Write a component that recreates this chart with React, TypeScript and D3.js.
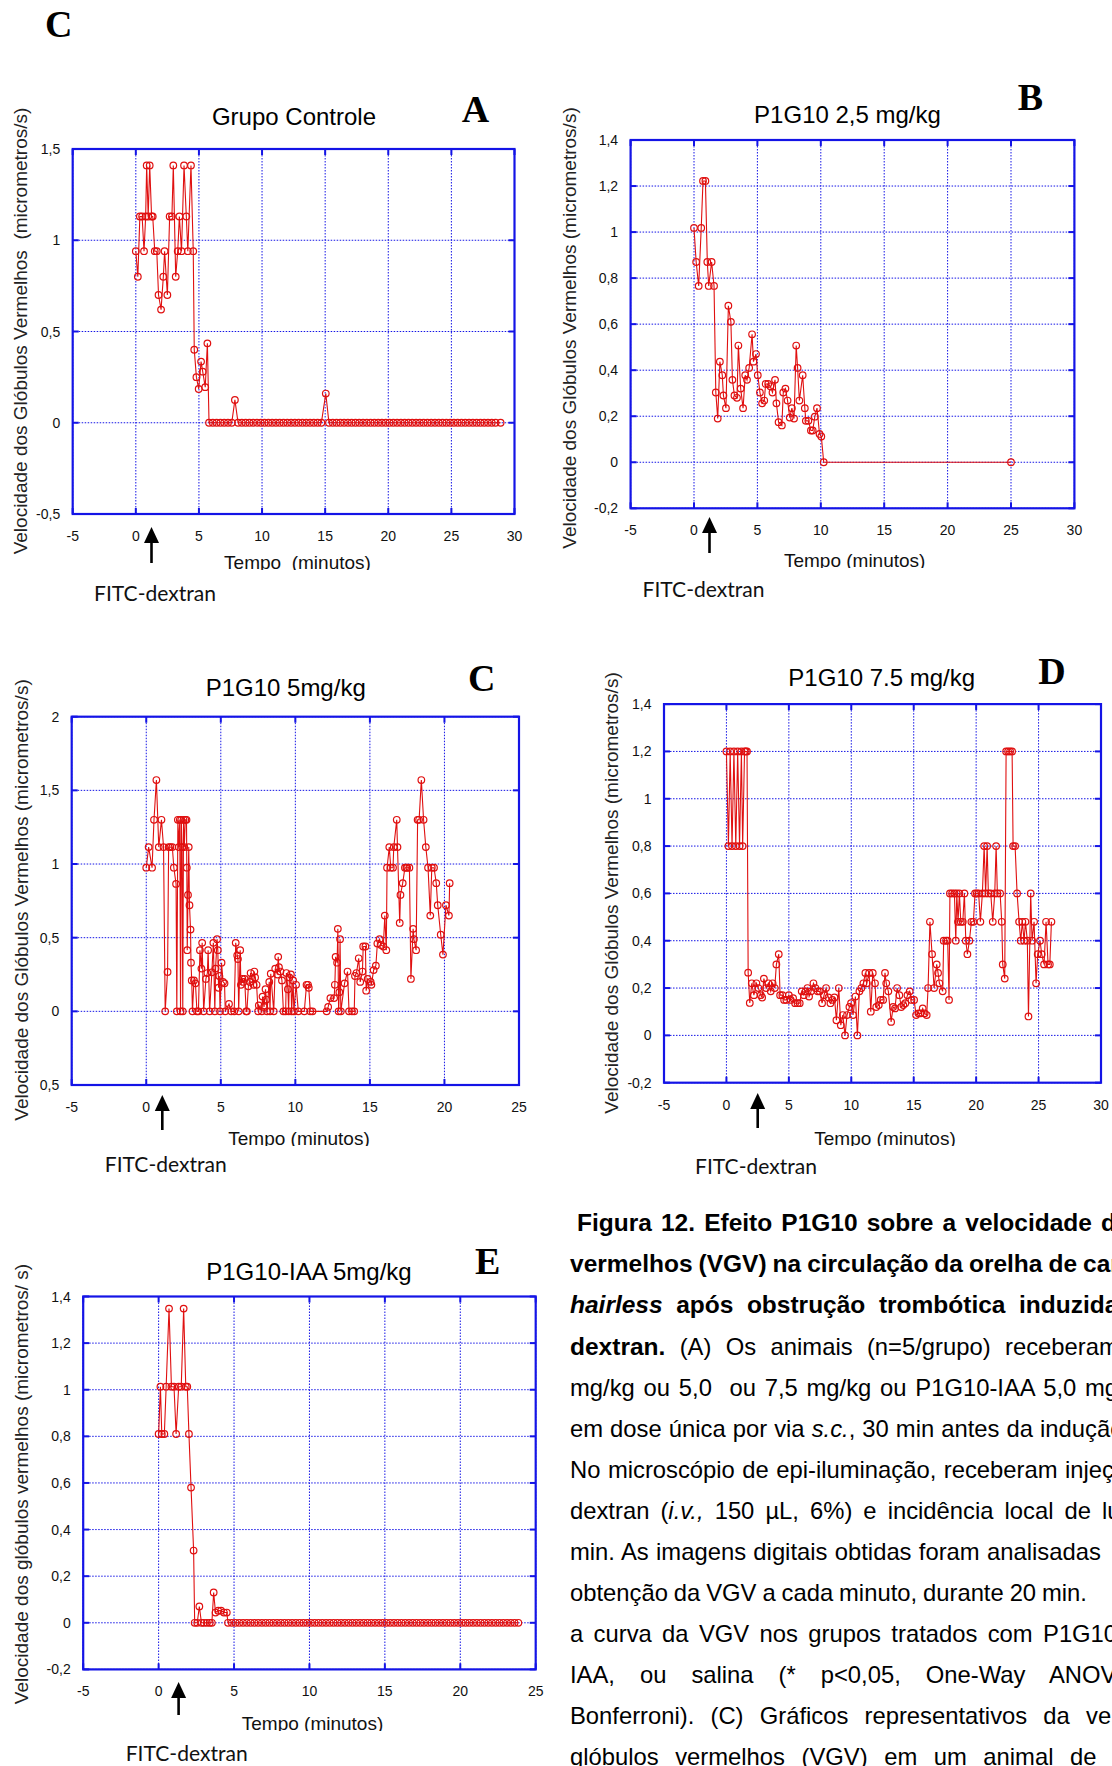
import React, { useEffect, useRef } from "react";
import * as d3 from "d3";

type Pt = [number, number];

// ---- tick values / labels ----
const xTicks30 = [-5, 0, 5, 10, 15, 20, 25, 30];
const xTicks25 = [-5, 0, 5, 10, 15, 20, 25];
const yTicksA = [-0.5, 0, 0.5, 1, 1.5];
const yLabelsA = ["-0,5", "0", "0,5", "1", "1,5"];
const yTicksC = [-0.5, 0, 0.5, 1, 1.5, 2];
const yLabelsC = ["0,5", "0", "0,5", "1", "1,5", "2"];
const yTicks14 = [-0.2, 0, 0.2, 0.4, 0.6, 0.8, 1, 1.2, 1.4];
const yLabels14 = ["-0,2", "0", "0,2", "0,4", "0,6", "0,8", "1", "1,2", "1,4"];

// ---- series: [tempo (min), VGV] ----
const grupoControle: Pt[] = [
  [0, 0.94], [0.16, 0.8], [0.32, 1.13], [0.5, 1.13], [0.65, 0.94], [0.78, 1.13], [0.86, 1.41], [0.98, 1.13],
  [1.1, 1.41], [1.25, 1.13], [1.34, 1.13], [1.5, 0.94], [1.66, 0.94], [1.8, 0.7], [2.0, 0.62], [2.18, 0.8],
  [2.28, 0.94], [2.5, 0.7], [2.68, 1.13], [2.86, 1.13], [2.97, 1.41], [3.16, 0.8], [3.32, 0.94], [3.45, 1.13],
  [3.62, 0.94], [3.82, 1.41], [4.0, 1.13], [4.12, 0.94], [4.37, 1.41], [4.55, 0.94], [4.63, 0.4], [4.8, 0.25],
  [4.98, 0.185], [5.17, 0.335], [5.3, 0.28], [5.5, 0.195], [5.67, 0.435], [5.8, 0], [6.1, 0], [6.4, 0],
  [6.7, 0], [7.0, 0], [7.3, 0], [7.6, 0], [7.85, 0.125], [8.1, 0], [8.4, 0], [8.7, 0], [9.0, 0], [9.3, 0],
  [9.6, 0], [9.9, 0], [10.2, 0], [10.5, 0], [10.8, 0], [11.1, 0], [11.4, 0], [11.7, 0], [12.0, 0], [12.3, 0],
  [12.6, 0], [12.9, 0], [13.2, 0], [13.5, 0], [13.8, 0], [14.1, 0], [14.4, 0], [14.7, 0], [15.05, 0.16],
  [15.3, 0], [15.6, 0], [15.9, 0], [16.2, 0], [16.5, 0], [16.8, 0], [17.1, 0], [17.4, 0], [17.7, 0], [18.0, 0],
  [18.3, 0], [18.6, 0], [18.9, 0], [19.2, 0], [19.5, 0], [19.8, 0], [20.1, 0], [20.4, 0], [20.7, 0], [21.0, 0],
  [21.3, 0], [21.6, 0], [21.9, 0], [22.2, 0], [22.5, 0], [22.8, 0], [23.1, 0], [23.4, 0], [23.7, 0], [24.0, 0],
  [24.3, 0], [24.6, 0], [24.9, 0], [25.2, 0], [25.5, 0], [25.8, 0], [26.1, 0], [26.4, 0], [26.7, 0], [27.0, 0],
  [27.3, 0], [27.6, 0], [27.9, 0], [28.2, 0], [28.5, 0], [28.9, 0],
];

const p1g10_25: Pt[] = [
  [0, 1.018], [0.17, 0.87], [0.37, 0.766], [0.57, 1.018], [0.71, 1.222], [0.9, 1.222], [1.05, 0.87], [1.16, 0.766],
  [1.39, 0.87], [1.58, 0.766], [1.72, 0.303], [1.87, 0.19], [2.04, 0.437], [2.23, 0.378], [2.32, 0.29], [2.52, 0.235],
  [2.71, 0.68], [2.91, 0.61], [3.03, 0.358], [3.19, 0.29], [3.39, 0.28], [3.5, 0.507], [3.68, 0.32], [3.87, 0.235],
  [4.04, 0.378], [4.18, 0.358], [4.35, 0.41], [4.58, 0.556], [4.69, 0.437], [4.89, 0.47], [5.03, 0.378], [5.2, 0.303],
  [5.37, 0.256], [5.54, 0.268], [5.65, 0.34], [5.85, 0.34], [6.02, 0.33], [6.19, 0.303], [6.39, 0.358], [6.5, 0.256],
  [6.67, 0.174], [6.93, 0.16], [7.04, 0.303], [7.21, 0.32], [7.38, 0.268], [7.55, 0.194], [7.72, 0.235], [7.89, 0.19],
  [8.06, 0.507], [8.17, 0.41], [8.31, 0.268], [8.57, 0.378], [8.74, 0.235], [8.82, 0.18], [9.02, 0.18], [9.22, 0.138],
  [9.36, 0.138], [9.53, 0.198], [9.7, 0.235], [9.9, 0.123], [10.04, 0.112], [10.23, 0], [25.0, 0],
];

const p1g10_5: Pt[] = [
  [0, 0.975], [0.16, 1.115], [0.39, 0.975], [0.52, 1.3], [0.68, 1.57], [0.84, 1.115], [1.02, 1.3], [1.16, 1.115],
  [1.27, 0], [1.43, 0.267], [1.5, 1.115], [1.62, 1.115], [1.75, 1.115], [1.85, 0.975], [2.0, 0.865], [2.05, 0],
  [2.12, 1.3], [2.18, 1.115], [2.25, 1.3], [2.3, 0], [2.35, 1.3], [2.4, 1.115], [2.45, 0], [2.5, 1.3], [2.55, 1.115],
  [2.62, 1.3], [2.7, 1.3], [2.72, 0.975], [2.75, 0.415], [2.8, 0.79], [2.85, 1.115], [2.9, 0.72], [2.97, 0.555],
  [3.0, 0.33], [3.05, 0.21], [3.1, 0], [3.2, 0.21], [3.3, 0.19], [3.4, 0], [3.5, 0], [3.6, 0.415], [3.7, 0.29],
  [3.75, 0.465], [3.85, 0], [4.0, 0.22], [4.1, 0.26], [4.15, 0.415], [4.25, 0], [4.4, 0.265], [4.5, 0.465], [4.6, 0],
  [4.65, 0.29], [4.75, 0.49], [4.8, 0.415], [4.85, 0.16], [4.9, 0.24], [4.95, 0], [5.05, 0.33], [5.15, 0.2],
  [5.25, 0.19], [5.3, 0], [5.55, 0.05], [5.7, 0], [5.9, 0], [6.0, 0.465], [6.1, 0.38], [6.15, 0.355], [6.2, 0],
  [6.3, 0.415], [6.35, 0.18], [6.45, 0.22], [6.5, 0.2], [6.6, 0.22], [6.7, 0], [6.75, 0], [6.85, 0.17], [6.95, 0.2],
  [7.0, 0.26], [7.1, 0.22], [7.2, 0.18], [7.25, 0.27], [7.3, 0.23], [7.4, 0.18], [7.5, 0], [7.55, 0.04], [7.75, 0],
  [7.8, 0.1], [7.9, 0.03], [8.0, 0.15], [8.05, 0.08], [8.1, 0], [8.25, 0.2], [8.3, 0], [8.35, 0.255], [8.55, 0],
  [8.65, 0.29], [8.8, 0.25], [8.85, 0.37], [8.9, 0.3], [9.0, 0.27], [9.1, 0.21], [9.2, 0], [9.35, 0], [9.4, 0.26],
  [9.5, 0.15], [9.55, 0], [9.6, 0.23], [9.7, 0.25], [9.75, 0], [9.85, 0.21], [9.9, 0], [10.05, 0.18], [10.2, 0],
  [10.6, 0], [10.75, 0.18], [10.85, 0.18], [10.9, 0.16], [11.0, 0], [11.15, 0], [12.1, 0], [12.2, 0.03],
  [12.35, 0.09], [12.6, 0.09], [12.65, 0.18], [12.7, 0.37], [12.8, 0.33], [12.85, 0.56], [12.9, 0], [12.95, 0.13],
  [13.0, 0.49], [13.05, 0], [13.3, 0.19], [13.5, 0.27], [13.6, 0], [13.8, 0], [13.95, 0], [14.0, 0.24],
  [14.1, 0.26], [14.25, 0.36], [14.35, 0.2], [14.5, 0.27], [14.55, 0.44], [14.7, 0.44], [14.75, 0.14],
  [14.85, 0.22], [15.05, 0.2], [15.1, 0.18], [15.25, 0.28], [15.4, 0.31], [15.5, 0.46], [15.65, 0.49],
  [15.75, 0.45], [15.9, 0.44], [16.0, 0.65], [16.1, 0.415], [16.15, 0.975], [16.3, 1.115], [16.4, 0.975],
  [16.55, 0.975], [16.6, 1.115], [16.8, 1.3], [16.85, 1.115], [17.0, 0.6], [17.05, 0.79], [17.2, 0.87],
  [17.35, 0.975], [17.45, 0.975], [17.5, 0.975], [17.65, 0.975], [17.75, 0.22], [17.9, 0.56], [17.95, 0.49],
  [18.1, 0.415], [18.2, 1.3], [18.3, 1.3], [18.45, 1.57], [18.6, 1.3], [18.75, 1.115], [18.9, 0.975],
  [19.05, 0.65], [19.15, 0.975], [19.3, 0.975], [19.45, 0.87], [19.55, 0.72], [19.75, 0.52], [19.9, 0.385],
  [20.1, 0.72], [20.3, 0.65], [20.35, 0.87],
];

const p1g10_75: Pt[] = [
  [0, 1.2], [0.16, 0.8], [0.3, 1.2], [0.45, 0.8], [0.6, 1.2], [0.75, 0.8], [0.9, 1.2], [1.05, 0.8], [1.2, 1.2],
  [1.3, 0.8], [1.45, 1.2], [1.55, 1.2], [1.65, 1.2], [1.74, 0.265], [1.87, 0.137], [2.03, 0.22], [2.2, 0.17],
  [2.4, 0.22], [2.56, 0.2], [2.75, 0.17], [2.86, 0.16], [3.0, 0.24], [3.18, 0.2], [3.36, 0.22], [3.55, 0.186],
  [3.7, 0.22], [3.87, 0.2], [4.0, 0.3], [4.19, 0.343], [4.3, 0.17], [4.48, 0.17], [4.62, 0.15], [4.8, 0.15],
  [5.0, 0.17], [5.15, 0.15], [5.34, 0.157], [5.5, 0.136], [5.7, 0.136], [5.87, 0.136], [6.03, 0.186], [6.2, 0.17],
  [6.35, 0.186], [6.49, 0.2], [6.62, 0.164], [6.78, 0.186], [6.97, 0.22], [7.13, 0.2], [7.31, 0.186], [7.47, 0.186],
  [7.66, 0.136], [7.82, 0.17], [7.98, 0.2], [8.17, 0.16], [8.33, 0.136], [8.49, 0.15], [8.65, 0.16], [8.81, 0.064],
  [9.0, 0.2], [9.16, 0.043], [9.32, 0.086], [9.5, 0], [9.66, 0.086], [9.85, 0.12], [9.98, 0.136], [10.14, 0.086],
  [10.33, 0.164], [10.49, 0], [10.65, 0.186], [10.81, 0.2], [10.97, 0.22], [11.13, 0.264], [11.24, 0.22],
  [11.43, 0.264], [11.56, 0.1], [11.72, 0.264], [11.9, 0.22], [12.0, 0.12], [12.2, 0.128], [12.36, 0.15],
  [12.55, 0.15], [12.7, 0.264], [12.8, 0.22], [12.97, 0.186], [13.19, 0.057], [13.35, 0.12], [13.5, 0.114],
  [13.67, 0.2], [13.85, 0.17], [14.0, 0.12], [14.17, 0.128], [14.33, 0.136], [14.5, 0.17], [14.68, 0.186],
  [14.82, 0.15], [15.03, 0.15], [15.19, 0.086], [15.38, 0.093], [15.56, 0.093], [15.72, 0.114], [15.88, 0.093],
  [16.04, 0.086], [16.15, 0.2], [16.3, 0.48], [16.47, 0.343], [16.63, 0.2], [16.84, 0.3], [16.95, 0.264],
  [17.06, 0.22], [17.32, 0.186], [17.4, 0.4], [17.59, 0.4], [17.72, 0.4], [17.83, 0.15], [17.9, 0.6], [18.07, 0.6],
  [18.26, 0.6], [18.37, 0.4], [18.45, 0.6], [18.55, 0.48], [18.66, 0.6], [18.77, 0.48], [18.93, 0.48], [19.06, 0.6],
  [19.17, 0.4], [19.3, 0.343], [19.46, 0.4], [19.62, 0.48], [19.78, 0.48], [19.91, 0.6], [20.05, 0.6], [20.2, 0.6],
  [20.34, 0.48], [20.5, 0.6], [20.64, 0.8], [20.76, 0.6], [20.88, 0.8], [20.98, 0.6], [21.17, 0.6], [21.33, 0.48],
  [21.49, 0.6], [21.6, 0.8], [21.7, 0.6], [21.92, 0.6], [22.05, 0.48], [22.13, 0.3], [22.29, 0.24], [22.4, 1.2],
  [22.56, 1.2], [22.72, 1.2], [22.88, 1.2], [22.96, 0.8], [23.12, 0.8], [23.28, 0.6], [23.44, 0.48], [23.57, 0.4],
  [23.7, 0.48], [23.84, 0.4], [23.95, 0.48], [24.1, 0.4], [24.19, 0.08], [24.37, 0.6], [24.48, 0.4], [24.64, 0.48],
  [24.8, 0.22], [24.93, 0.343], [25.12, 0.4], [25.25, 0.343], [25.44, 0.3], [25.6, 0.48], [25.76, 0.3], [25.9, 0.3],
  [26.03, 0.48],
];

const p1g10iaa_5: Pt[] = [
  [0, 0.81], [0.12, 1.013], [0.21, 0.81], [0.38, 0.81], [0.5, 1.013], [0.69, 1.348], [0.85, 1.013], [1.02, 1.013],
  [1.16, 0.81], [1.33, 1.013], [1.5, 1.013], [1.66, 1.348], [1.8, 1.013], [1.9, 1.013], [2.01, 0.81], [2.15, 0.58],
  [2.32, 0.31], [2.39, 0], [2.56, 0], [2.7, 0.07], [2.84, 0], [3.0, 0], [3.2, 0], [3.39, 0], [3.53, 0], [3.65, 0.13],
  [3.77, 0.044], [3.95, 0.052], [4.14, 0.052], [4.33, 0.044], [4.52, 0.044], [4.6, 0], [4.85, 0], [5.1, 0],
  [5.35, 0], [5.6, 0], [5.85, 0], [6.1, 0], [6.35, 0], [6.6, 0], [6.85, 0], [7.1, 0], [7.35, 0], [7.6, 0], [7.85, 0],
  [8.1, 0], [8.35, 0], [8.6, 0], [8.85, 0], [9.1, 0], [9.35, 0], [9.6, 0], [9.85, 0], [10.1, 0], [10.35, 0],
  [10.6, 0], [10.85, 0], [11.1, 0], [11.35, 0], [11.6, 0], [11.85, 0], [12.1, 0], [12.35, 0], [12.6, 0], [12.85, 0],
  [13.1, 0], [13.35, 0], [13.6, 0], [13.85, 0], [14.1, 0], [14.35, 0], [14.6, 0], [14.85, 0], [15.1, 0], [15.35, 0],
  [15.6, 0], [15.85, 0], [16.1, 0], [16.35, 0], [16.6, 0], [16.85, 0], [17.1, 0], [17.35, 0], [17.6, 0], [17.85, 0],
  [18.1, 0], [18.35, 0], [18.6, 0], [18.85, 0], [19.1, 0], [19.35, 0], [19.6, 0], [19.85, 0], [20.1, 0], [20.35, 0],
  [20.6, 0], [20.85, 0], [21.1, 0], [21.35, 0], [21.6, 0], [21.85, 0], [22.1, 0], [22.35, 0], [22.6, 0], [22.85, 0],
  [23.1, 0], [23.35, 0], [23.6, 0], [23.85, 0],
];

const SANS = "'Liberation Sans', Arial, sans-serif";
const SERIF = "'Liberation Serif', 'Times New Roman', serif";
const RED = "#e01010";
const BLUE = "#1414e6";

interface PanelCfg {
  id: string;
  left: number; right: number; top: number; bottom: number;
  xDomain: [number, number]; yDomain: [number, number];
  xTicks: number[]; yTicks: number[]; yLabels: string[];
  title: string; titleX: number; titleY: number;
  letter: string; letterX: number; letterY: number;
  yTitle: string; yTitleX: number; yTitleY: number;
  xTitle: string; xTitleX: number; xTitleY: number;
  arrowX: number; arrowTop: number; arrowBottom: number;
  fitcX: number; fitcY: number;
  data: Pt[];
}

const panels: PanelCfg[] = [
  {
    id: "A", left: 72.7, right: 514.5, top: 149, bottom: 514,
    xDomain: [-5, 30], yDomain: [-0.5, 1.5], xTicks: xTicks30, yTicks: yTicksA, yLabels: yLabelsA,
    title: "Grupo Controle", titleX: 294, titleY: 125, letter: "A", letterX: 461.7, letterY: 122,
    yTitle: "Velocidade dos Glóbulos Vermelhos  (micrometros/s)", yTitleX: 20, yTitleY: 331,
    xTitle: "Tempo  (minutos)", xTitleX: 297.5, xTitleY: 569,
    arrowX: 151.5, arrowTop: 527, arrowBottom: 563, fitcX: 94, fitcY: 601, data: grupoControle,
  },
  {
    id: "B", left: 630.6, right: 1074.4, top: 140, bottom: 508.3,
    xDomain: [-5, 30], yDomain: [-0.2, 1.4], xTicks: xTicks30, yTicks: yTicks14, yLabels: yLabels14,
    title: "P1G10 2,5 mg/kg", titleX: 847.5, titleY: 122.7, letter: "B", letterX: 1017.7, letterY: 110,
    yTitle: "Velocidade dos Glóbulos Vermelhos (micrometros/s)", yTitleX: 569.5, yTitleY: 328,
    xTitle: "Tempo (minutos)", xTitleX: 854.7, xTitleY: 567,
    arrowX: 709.5, arrowTop: 517, arrowBottom: 553, fitcX: 642.5, fitcY: 597, data: p1g10_25,
  },
  {
    id: "C", left: 71.7, right: 519, top: 716.7, bottom: 1085,
    xDomain: [-5, 25], yDomain: [-0.5, 2], xTicks: xTicks25, yTicks: yTicksC, yLabels: yLabelsC,
    title: "P1G10 5mg/kg", titleX: 285.7, titleY: 696, letter: "C", letterX: 468, letterY: 690.7,
    yTitle: "Velocidade dos Glóbulos Vermelhos (micrometros/s)", yTitleX: 21.3, yTitleY: 900,
    xTitle: "Tempo (minutos)", xTitleX: 299, xTitleY: 1145,
    arrowX: 162.3, arrowTop: 1095, arrowBottom: 1130, fitcX: 104.8, fitcY: 1172, data: p1g10_5,
  },
  {
    id: "D", left: 664, right: 1101, top: 704.1, bottom: 1082.7,
    xDomain: [-5, 30], yDomain: [-0.2, 1.4], xTicks: xTicks30, yTicks: yTicks14, yLabels: yLabels14,
    title: "P1G10 7.5 mg/kg", titleX: 881.7, titleY: 685.5, letter: "D", letterX: 1038.3, letterY: 683.8,
    yTitle: "Velocidade dos Glóbulos Vermelhos (micrometros/s)", yTitleX: 611, yTitleY: 893,
    xTitle: "Tempo (minutos)", xTitleX: 885, xTitleY: 1145,
    arrowX: 757.7, arrowTop: 1093, arrowBottom: 1128, fitcX: 695, fitcY: 1174, data: p1g10_75,
  },
  {
    id: "E", left: 83.2, right: 535.7, top: 1296.5, bottom: 1669.4,
    xDomain: [-5, 25], yDomain: [-0.2, 1.4], xTicks: xTicks25, yTicks: yTicks14, yLabels: yLabels14,
    title: "P1G10-IAA 5mg/kg", titleX: 309, titleY: 1280, letter: "E", letterX: 475, letterY: 1273.8,
    yTitle: "Velocidade dos glóbulos vermelhos (micrometros/ s)", yTitleX: 21.4, yTitleY: 1484,
    xTitle: "Tempo (minutos)", xTitleX: 312.5, xTitleY: 1730,
    arrowX: 178.6, arrowTop: 1682, arrowBottom: 1715, fitcX: 125.7, fitcY: 1761, data: p1g10iaa_5,
  },
];

function Panel({ cfg }: { cfg: PanelCfg }) {
  const x = d3.scaleLinear().domain(cfg.xDomain).range([cfg.left, cfg.right]);
  const y = d3.scaleLinear().domain(cfg.yDomain).range([cfg.bottom, cfg.top]);
  const line = d3.line<Pt>().x((d) => x(d[0])).y((d) => y(d[1]));
  const clipId = `xt-clip-${cfg.id}`;
  const tk = 6;
  return (
    <g>
      <defs>
        <clipPath id={clipId}>
          <rect x={cfg.xTitleX - 150} y={cfg.xTitleY - 40} width={300} height={41} />
        </clipPath>
      </defs>
      {cfg.xTicks.map((t) => (
        <line key={`gx${t}`} x1={x(t)} x2={x(t)} y1={cfg.top} y2={cfg.bottom}
          stroke={BLUE} strokeWidth={1} strokeDasharray="1.5 1.5" />
      ))}
      {cfg.yTicks.map((t) => (
        <line key={`gy${t}`} x1={cfg.left} x2={cfg.right} y1={y(t)} y2={y(t)}
          stroke={BLUE} strokeWidth={1} strokeDasharray="1.5 1.5" />
      ))}
      {cfg.xTicks.map((t) => (
        <g key={`tx${t}`} stroke={BLUE} strokeWidth={2}>
          <line x1={x(t)} x2={x(t)} y1={cfg.top} y2={cfg.top + tk} />
          <line x1={x(t)} x2={x(t)} y1={cfg.bottom} y2={cfg.bottom - tk} />
        </g>
      ))}
      {cfg.yTicks.map((t) => (
        <g key={`ty${t}`} stroke={BLUE} strokeWidth={2}>
          <line x1={cfg.left} x2={cfg.left + tk} y1={y(t)} y2={y(t)} />
          <line x1={cfg.right} x2={cfg.right - tk} y1={y(t)} y2={y(t)} />
        </g>
      ))}
      <path d={line(cfg.data) || ""} fill="none" stroke={RED} strokeWidth={1.1} />
      {cfg.data.map((d, i) => (
        <circle key={i} cx={x(d[0])} cy={y(d[1])} r={3.3} fill="none" stroke={RED} strokeWidth={1.2} />
      ))}
      <rect x={cfg.left} y={cfg.top} width={cfg.right - cfg.left} height={cfg.bottom - cfg.top}
        fill="none" stroke={BLUE} strokeWidth={2.2} />
      <g fontFamily={SANS} fontSize={14} fill="#111">
        {cfg.xTicks.map((t) => (
          <text key={`lx${t}`} x={x(t)} y={cfg.bottom + 27} textAnchor="middle">{String(t)}</text>
        ))}
        {cfg.yTicks.map((t, i) => (
          <text key={`ly${t}`} x={cfg.left - 12.5} y={y(t) + 5} textAnchor="end">{cfg.yLabels[i]}</text>
        ))}
      </g>
      <text x={cfg.titleX} y={cfg.titleY} textAnchor="middle" fontFamily={SANS} fontSize={24} fill="#000">
        {cfg.title}
      </text>
      <text x={cfg.letterX} y={cfg.letterY} fontFamily={SERIF} fontWeight="bold" fontSize={38} fill="#000">
        {cfg.letter}
      </text>
      <text transform={`translate(${cfg.yTitleX},${cfg.yTitleY}) rotate(-90)`} textAnchor="middle"
        dominantBaseline="central" fontFamily={SANS} fontSize={19} fill="#222" style={{ whiteSpace: "pre" }}>
        {cfg.yTitle}
      </text>
      <g clipPath={`url(#${clipId})`}>
        <text x={cfg.xTitleX} y={cfg.xTitleY} textAnchor="middle" fontFamily={SANS} fontSize={19} fill="#111"
          style={{ whiteSpace: "pre" }}>
          {cfg.xTitle}
        </text>
      </g>
      <path d={`M${cfg.arrowX},${cfg.arrowTop} L${cfg.arrowX - 7.5},${cfg.arrowTop + 16} L${cfg.arrowX + 7.5},${cfg.arrowTop + 16} Z`} fill="#000" />
      <line x1={cfg.arrowX} x2={cfg.arrowX} y1={cfg.arrowTop + 14} y2={cfg.arrowBottom} stroke="#000" strokeWidth={2.6} />
      <text x={cfg.fitcX} y={cfg.fitcY} fontFamily="Lato, 'Open Sans', sans-serif" fontSize={21}
        textLength={122} lengthAdjust="spacingAndGlyphs" fill="#111">
        FITC-dextran
      </text>
    </g>
  );
}

interface Seg { t: string; b?: boolean; i?: boolean }
interface CapLine { segs: Seg[]; x: number; anchor: string; at: number }

const caption: CapLine[] = [
  { segs: [{ t: "Figura 12. Efeito P1G10 sobre a velocidade dos glóbulos", b: true }], x: 577, anchor: "dos", at: 1101 },
  { segs: [{ t: "vermelhos (VGV) na circulação da orelha de camundongos", b: true }], x: 570, anchor: "camundongos", at: 1083 },
  { segs: [{ t: "hairless", b: true, i: true }, { t: " após obstrução trombótica induzida por", b: true }], x: 570, anchor: "induzida", at: 1019 },
  { segs: [{ t: "dextran.", b: true }, { t: " (A) Os animais (n=5/grupo) receberam P1G10" }], x: 570, anchor: "receberam", at: 1005 },
  { segs: [{ t: "mg/kg ou 5,0  ou 7,5 mg/kg ou P1G10-IAA 5,0 mg/kg" }], x: 570, anchor: "mg/kg", at: 1085 },
  { segs: [{ t: "em dose única por via " }, { t: "s.c.", i: true }, { t: ", 30 min antes da indução" }], x: 570, anchor: "indução", at: 1040 },
  { segs: [{ t: "No microscópio de epi-iluminação, receberam injeção" }], x: 570, anchor: "injeção", at: 1065 },
  { segs: [{ t: "dextran (" }, { t: "i.v.,", i: true }, { t: " 150 µL, 6%) e incidência local de luz" }], x: 570, anchor: "luz", at: 1102 },
  { segs: [{ t: "min. As imagens digitais obtidas foram analisadas" }], x: 570, anchor: "analisadas", at: 987 },
  { segs: [{ t: "obtenção da VGV a cada minuto, durante 20 min." }], x: 570, anchor: "min.", at: 1042 },
  { segs: [{ t: "a curva da VGV nos grupos tratados com P1G10-" }], x: 570, anchor: "P1G10-", at: 1043 },
  { segs: [{ t: "IAA, ou salina (* p<0,05, One-Way ANOVA" }], x: 570, anchor: "ANOVA", at: 1049 },
  { segs: [{ t: "Bonferroni). (C) Gráficos representativos da velocidade" }], x: 570, anchor: "velocidade", at: 1086 },
  { segs: [{ t: "glóbulos vermelhos (VGV) em um animal de" }], x: 570, anchor: "de", at: 1070 },
];

function Caption() {
  const ref = useRef<SVGGElement>(null);
  useEffect(() => {
    const fit = () => {
      const g = ref.current;
      if (!g) return;
      const nodes = g.querySelectorAll("text");
      nodes.forEach((el, k) => {
        const ln = caption[k];
        const full = ln.segs.map((s) => s.t).join("");
        const idx = full.lastIndexOf(ln.anchor);
        const spaces = (full.slice(0, idx).match(/ /g) || []).length;
        (el as SVGTextElement).style.wordSpacing = "0px";
        const x0 = (el as SVGTextElement).getStartPositionOfChar(idx).x;
        (el as SVGTextElement).style.wordSpacing = `${(ln.at - x0) / spaces}px`;
      });
    };
    fit();
    if ((document as any).fonts) (document as any).fonts.ready.then(fit);
  }, []);
  return (
    <g ref={ref} fontFamily={SANS} fill="#000">
      {caption.map((ln, k) => (
        <text key={k} x={ln.x} y={1231.4 + k * 41.04} style={{ whiteSpace: "pre" }}>
          {ln.segs.map((s, j) => (
            <tspan key={j} fontSize={s.b ? 24.5 : 23.8} fontWeight={s.b ? "bold" : "normal"}
              fontStyle={s.i ? "italic" : "normal"}>{s.t}</tspan>
          ))}
        </text>
      ))}
    </g>
  );
}

export default function App() {
  return (
    <svg width={1112} height={1766} viewBox="0 0 1112 1766"
      style={{ position: "absolute", left: 0, top: 0, background: "#fff" }}>
      <rect x={0} y={0} width={1112} height={1766} fill="#fff" />
      <text x={45} y={37} fontFamily={SERIF} fontWeight="bold" fontSize={38} fill="#000">C</text>
      {panels.map((p) => (
        <Panel key={p.id} cfg={p} />
      ))}
      <Caption />
    </svg>
  );
}
